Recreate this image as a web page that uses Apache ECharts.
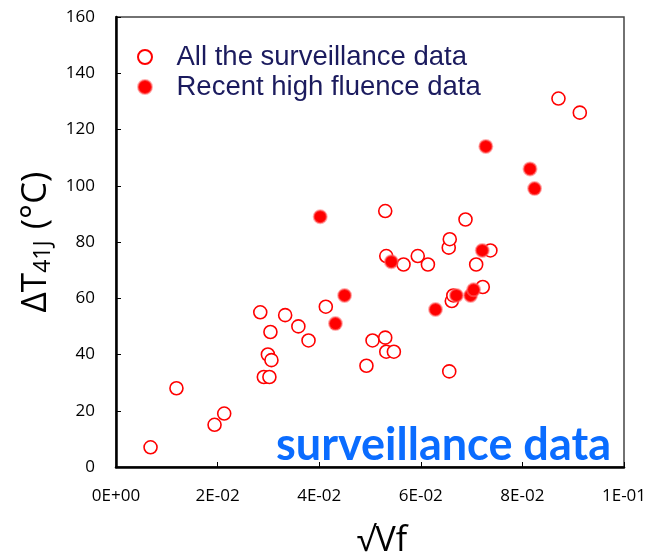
<!DOCTYPE html>
<html>
<head>
<meta charset="utf-8">
<script src="https://cdn.jsdelivr.net/npm/echarts@6/dist/echarts.min.js"></script>
<style>
html,body{margin:0;padding:0;background:#fff;}
#c{width:649px;height:557px;}
</style>
</head>
<body>
<div id="c"></div>
<script>
// All the surveillance data: [sqrt(Vf), dT41J]
const allSurveillanceX = [0.0068,0.0119,0.0194,0.0213,0.0284,0.0291,0.0302,0.0299,0.0306,0.0304,0.0333,0.0359,0.0379,0.0413,0.0493,0.0505,0.0530,0.0532,0.0530,0.0532,0.0547,0.0566,0.0594,0.0614,0.0655,0.0657,0.0656,0.0661,0.0664,0.0688,0.0709,0.0722,0.0737,0.0871,0.0913];
const allSurveillanceY = [7,28,15,19,55,32,32,40,38,48,54,50,45,57,36,45,91,75,46,41,41,72,75,72,78,81,34,59,61,88,72,64,77,131,126];
// Recent high fluence data
const recentHighX = [0.0402,0.0432,0.0450,0.0542,0.0629,0.0670,0.0698,0.0704,0.0721,0.0728,0.0815,0.0824];
const recentHighY = [89,51,61,73,56,61,61,63,77,114,106,99];

const xTickLabels = ['0E+00','2E-02','4E-02','6E-02','8E-02','1E-01'];
const yTickValues = [0,20,40,60,80,100,120,140,160];
const seriesNames = ['All the surveillance data','Recent high fluence data'];
const annotationText = 'surveillance data';

const zip = (xs, ys) => xs.map((x, i) => [x, ys[i]]);

const chart = echarts.init(document.getElementById('c'), null, {renderer: 'canvas'});
chart.setOption({
  animation: false,
  backgroundColor: '#fff',
  textStyle: {fontFamily: 'Open Sans'},
  grid: {left: 116, right: 25, top: 17, bottom: 90, show: true, borderColor: '#444', borderWidth: 1.5,
         backgroundColor: 'transparent', containLabel: false, outerBoundsMode: 'none'},
  title: {
    text: annotationText,
    right: 33, top: 418,
    textStyle: {fontFamily: 'Lato', fontWeight: 'bold', fontSize: 45, color: '#0A6CFF'}
  },
  legend: {
    orient: 'vertical',
    left: 132, top: 38,
    itemWidth: 53, itemHeight: 14,
    itemGap: 2,
    data: seriesNames,
    textStyle: {fontFamily: 'Liberation Sans', fontSize: 27.5, color: '#1B1B5E', padding: [0,0,0,0]}
  },
  xAxis: {
    type: 'value', min: 0, max: 0.1, interval: 0.02,
    name: '√Vf', nameLocation: 'middle', nameGap: 57,
    nameTextStyle: {fontSize: 34, color: '#000', padding: [0,0,0,24]},
    axisLine: {show: true, lineStyle: {color: '#000', width: 2.5}},
    axisTick: {show: true, inside: true, length: 5, lineStyle: {color: '#000', width: 1}},
    axisLabel: {fontSize: 17, color: '#000', margin: 21,
      formatter: v => xTickLabels[Math.round(v / 0.02)] || ''},
    splitLine: {show: false}
  },
  yAxis: {
    type: 'value', min: 0, max: 160, interval: 20,
    name: 'ΔT{sub|41J} (°C)', nameLocation: 'middle', nameGap: 56, nameRotate: 90,
    nameTextStyle: {fontSize: 35, color: '#000',
      rich: {sub: {fontSize: 23, color: '#000', verticalAlign: 'bottom', padding: [14,2,0,0]}}},
    axisLine: {show: true, lineStyle: {color: '#000', width: 2.5}},
    axisTick: {show: true, inside: true, length: 5, lineStyle: {color: '#000', width: 1}},
    axisLabel: {fontSize: 17, color: '#000', margin: 21,
      formatter: v => yTickValues.includes(v) ? String(v) : ''},
    splitLine: {show: false}
  },
  series: [
    {
      name: seriesNames[0], type: 'scatter', symbol: 'circle', symbolSize: 13,
      itemStyle: {color: '#fff', borderColor: '#FF0000', borderWidth: 1.6, opacity: 1},
      data: zip(allSurveillanceX, allSurveillanceY), z: 2
    },
    {
      name: seriesNames[1], type: 'scatter', symbol: 'circle', symbolSize: 13,
      itemStyle: {color: '#FF0000', borderColor: 'rgba(255,110,110,0.55)', borderWidth: 2, opacity: 1},
      data: zip(recentHighX, recentHighY), z: 3
    }
  ]
});
</script>
</body>
</html>
